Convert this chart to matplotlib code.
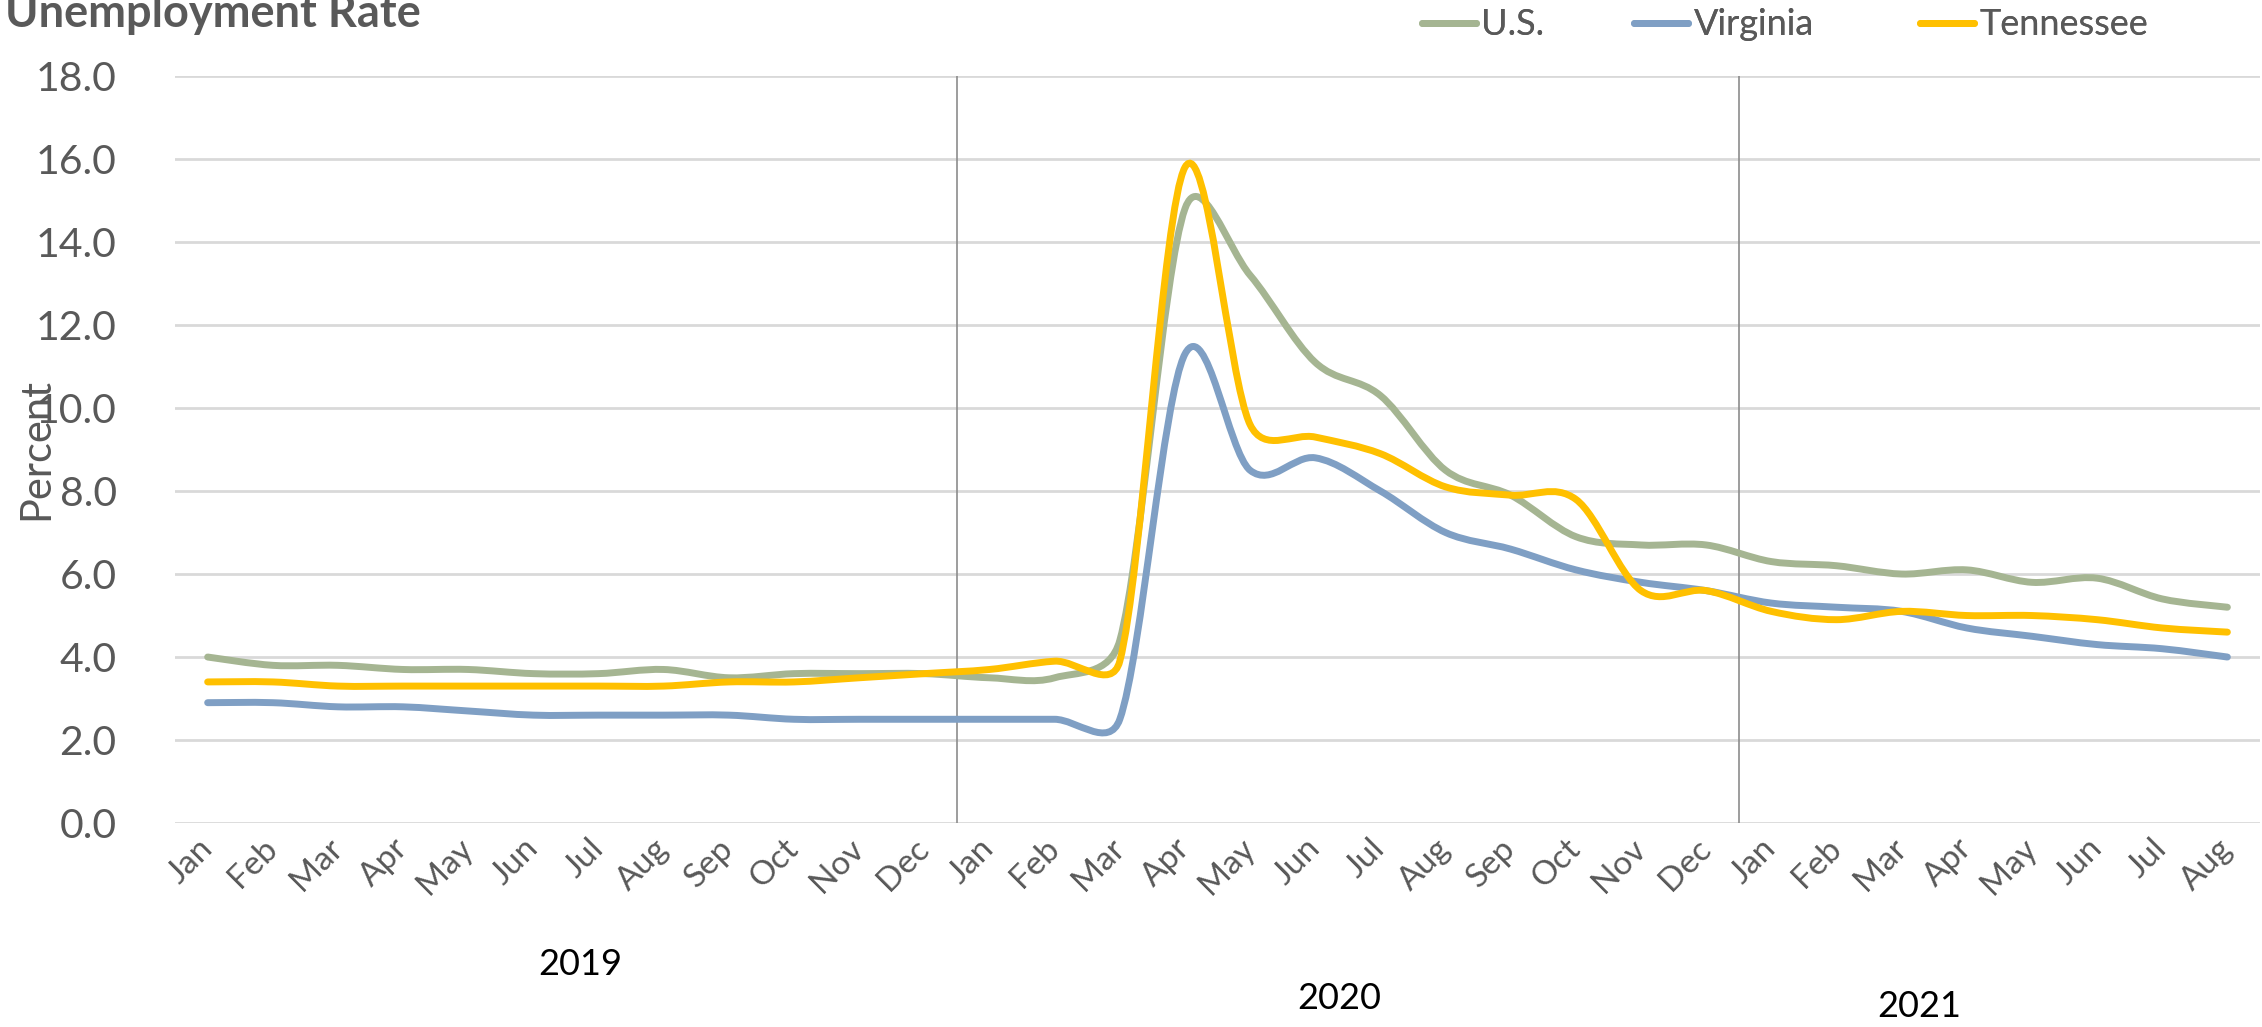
import matplotlib
matplotlib.use('Agg')
import matplotlib.pyplot as plt
from matplotlib.path import Path
from matplotlib.patches import PathPatch
from matplotlib.lines import Line2D
import numpy as np

#### Data ####
months = ['Jan', 'Feb', 'Mar', 'Apr', 'May', 'Jun', 'Jul', 'Aug', 'Sep', 'Oct', 'Nov', 'Dec',
          'Jan', 'Feb', 'Mar', 'Apr', 'May', 'Jun', 'Jul', 'Aug', 'Sep', 'Oct', 'Nov', 'Dec',
          'Jan', 'Feb', 'Mar', 'Apr', 'May', 'Jun', 'Jul', 'Aug']
years = ['2019', '2020', '2021']

us = [4.0, 3.8, 3.8, 3.7, 3.7, 3.6, 3.6, 3.7, 3.5, 3.6, 3.6, 3.6,
      3.5, 3.5, 4.4, 14.8, 13.2, 11.1, 10.3, 8.5, 7.9, 6.9, 6.7, 6.7,
      6.3, 6.2, 6.0, 6.1, 5.8, 5.9, 5.4, 5.2]
virginia = [2.9, 2.9, 2.8, 2.8, 2.7, 2.6, 2.6, 2.6, 2.6, 2.5, 2.5, 2.5,
            2.5, 2.5, 2.5, 11.3, 8.5, 8.8, 8.0, 7.0, 6.6, 6.1, 5.8, 5.6,
            5.3, 5.2, 5.1, 4.7, 4.5, 4.3, 4.2, 4.0]
tennessee = [3.4, 3.4, 3.3, 3.3, 3.3, 3.3, 3.3, 3.3, 3.4, 3.4, 3.5, 3.6,
             3.7, 3.9, 3.9, 15.8, 9.6, 9.3, 8.9, 8.1, 7.9, 7.8, 5.6, 5.6,
             5.1, 4.9, 5.1, 5.0, 5.0, 4.9, 4.7, 4.6]

series = [('U.S.', us, '#a5b592'), ('Virginia', virginia, '#7f9fc4'), ('Tennessee', tennessee, '#ffc000')]

plt.rcParams['font.family'] = ['Lato', 'DejaVu Sans']
grey = '#595959'

# pixel size of one category / one percent, used for the smoothing arms
SX, SY = 65.15, 41.5


# Excel style smoothed line: bezier arms of (P2-P0)/6, clipped to half the segment
def smooth_path(y):
    x = np.arange(len(y), dtype=float)
    y = np.asarray(y, dtype=float)
    n = len(y)

    def dist(i, j):
        return np.hypot((x[j] - x[i]) * SX, (y[j] - y[i]) * SY)

    verts = [(x[0], y[0])]
    codes = [Path.MOVETO]
    for i in range(n - 1):
        a = max(i - 1, 0)
        b = min(i + 2, n - 1)
        d12 = dist(i, i + 1)
        d02 = dist(a, i + 1)
        d13 = dist(i, b)
        f1 = min(1 / 6, d12 / (2 * d02)) if d02 > 0 else 0
        f2 = min(1 / 6, d12 / (2 * d13)) if d13 > 0 else 0
        c1 = (x[i] + f1 * (x[i + 1] - x[a]), y[i] + f1 * (y[i + 1] - y[a]))
        c2 = (x[i + 1] - f2 * (x[b] - x[i]), y[i + 1] - f2 * (y[b] - y[i]))
        verts += [c1, c2, (x[i + 1], y[i + 1])]
        codes += [Path.CURVE4] * 3
    return Path(verts, codes)


fig = plt.figure(figsize=(22.62, 10.27), dpi=100)
ax = fig.add_axes([0.0774, 0.1986, 0.9217, 0.7274])

handles = []
for name, vals, col in series:
    ax.add_patch(PathPatch(smooth_path(vals), facecolor='none', edgecolor=col, lw=5,
                           capstyle='round', joinstyle='round', zorder=3))
    handles.append(Line2D([], [], color=col, lw=5, solid_capstyle='round', label=name))

# year separators
for xs in [11.5, 23.5]:
    ax.plot([xs, xs], [0, 18], color='#8c8c8c', lw=1.2, zorder=2)

ax.set_xlim(-0.5, len(months) - 0.5)
ax.set_ylim(0, 18)
ax.set_yticks(np.arange(0, 18.1, 2))
ax.set_yticklabels(['%.1f' % v for v in np.arange(0, 18.1, 2)])
ax.set_xticks(range(len(months)))
ax.set_xticklabels(months)
ax.grid(axis='y', color='#d9d9d9', lw=2)
ax.set_axisbelow(True)
for s in ax.spines.values():
    s.set_visible(False)
ax.tick_params(axis='both', length=0, colors=grey)
ax.tick_params(axis='y', labelsize=29.5, pad=42)
ax.tick_params(axis='x', labelsize=24, pad=15)
plt.setp(ax.get_xticklabels(), rotation=45, ha='right', va='center', rotation_mode='anchor')

fig.text(0.002, 0.9737, 'Unemployment Rate', fontsize=32.5, fontweight='bold', color=grey, va='baseline')
fig.text(0.016, 0.563, 'Percent', fontsize=30, color=grey, rotation=90, ha='center', va='center')

year_pos = [(0.2564, 0.0613), (0.592, 0.0282), (0.8484, 0.0204)]
for yr, (xp, yp) in zip(years, year_pos):
    fig.text(xp, yp, yr, fontsize=26, color='black', ha='center', va='center')

# one legend per entry so the gaps follow the reference
leg_x = [0.6286, 0.7224, 0.8488]
for h, lx in zip(handles, leg_x):
    leg = fig.legend(handles=[h], loc='center left', bbox_to_anchor=(lx, 0.9757), frameon=False,
                     fontsize=26, labelcolor=grey, handlelength=1.5, handletextpad=0.15,
                     borderpad=0, borderaxespad=0)
    fig.add_artist(leg)

fig.savefig('out.png', dpi=100)
plt.close()
